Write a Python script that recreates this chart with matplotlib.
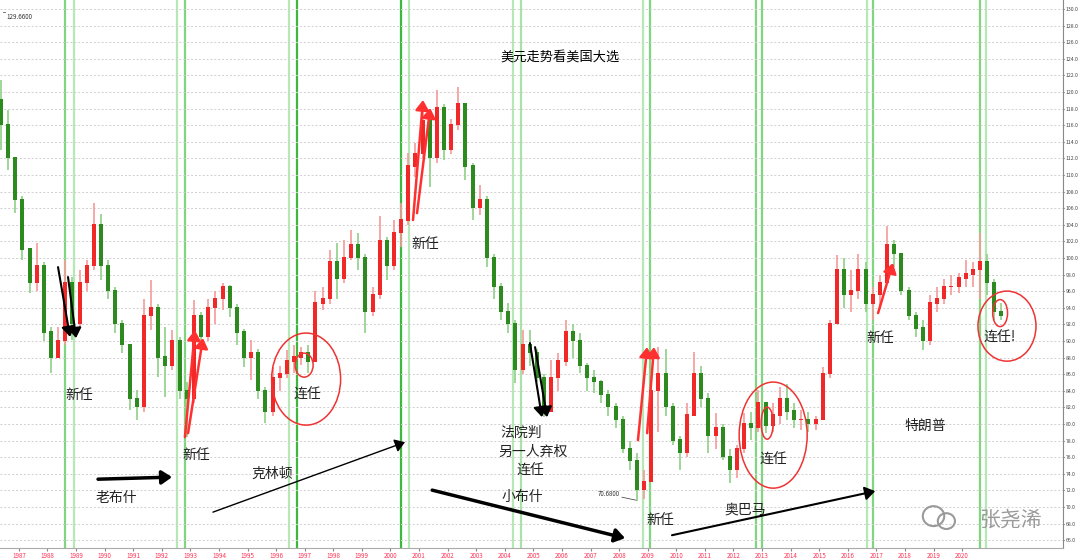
import matplotlib
matplotlib.use('Agg')
import matplotlib.pyplot as plt
from matplotlib.patches import Ellipse
import numpy as np

plt.rcParams['font.family'] = ['Noto Sans CJK SC', 'DejaVu Sans']

# quarterly candles (dollar index), open = previous close
first_open = 119.0
closes = [116, 112, 107, 101, 97, 99, 91, 88, 90, 97, 92, 97, 99, 104, 99, 96, 92, 89.5, 83, 82,
          93, 94, 88, 87, 90, 84, 83, 93, 90.5, 94, 95, 96.5, 94, 91, 88, 88.5, 84, 81.5, 85.5, 86,
          87.5, 88, 88.5, 87.5, 94.5, 95, 99.5, 97.5, 100, 101.5, 100, 93.5, 95.5, 102, 99, 103, 104.5, 111, 112.5, 116.5,
          112, 118, 113, 116, 118.5, 111, 106, 107, 100, 96.5, 93.5, 92, 86.5, 89.5, 88.5, 85.5, 81.5, 85.5, 87.5, 91,
          90, 87, 85.5, 85, 83.5, 82, 80.5, 77, 75.5, 72, 73, 84, 86, 82, 78, 76.5, 81, 86, 83, 78.5,
          79.5, 76, 74.5, 77, 80, 79.5, 82.5, 79.8, 81, 83, 81.5, 80.5, 80.5, 80, 80.5, 86, 92, 98.5, 95.5, 96,
          98.5, 94.5, 95.5, 97, 101.5, 100.5, 96, 93, 91.5, 90, 94.5, 95, 96.5, 96.5, 97.5, 98, 98.5, 99.5, 97, 93.5, 93]
highs = [121.5, 117.8, 110, 107.5, 101, 101.8, 99.5, 91.7, 91.7, 99.8, 97.7, 98.6, 99.8, 106.6, 105.3, 99.8, 96.5, 92.5, 89.5, 84.1,
         95, 97.3, 94.5, 91.7, 91.3, 90.5, 85, 94.9, 93.5, 95, 96, 97, 96.8, 94.5, 91.5, 90.1, 89, 84.5, 86.9, 87,
         88.9, 89.5, 89.3, 89.5, 96, 96.5, 101, 101.8, 102.2, 103.4, 103, 100.5, 96.5, 105, 102.5, 104.6, 106.6, 112.6, 113.9, 118.2,
         117, 120.2, 118.5, 116.8, 120.6, 118.5, 111.5, 108.8, 107.5, 100.5, 97, 94.6, 92.5, 91.3, 91.3, 89, 86, 87.7, 88.5, 92.5,
         92, 91, 87.3, 86.5, 85.3, 84.1, 82.5, 81, 78, 76.5, 74.5, 85.5, 89.3, 89, 82.5, 78.5, 82.5, 88.7, 87, 83.7,
         81.3, 80, 77, 77.5, 81.3, 81.5, 84.1, 82.5, 82.5, 84.5, 84.8, 82.5, 81.7, 81.5, 81, 86.9, 92.5, 100.4, 100, 98.5,
         100.5, 99.5, 96.5, 98, 103.8, 102.2, 100.5, 96.5, 93.5, 92.5, 95.5, 96.5, 97.5, 98, 98.2, 99.8, 99.5, 103, 100.5, 97.5, 94.6]
lows = [113, 110.6, 105.4, 99.8, 95.8, 96, 90, 86.1, 88, 89.5, 90.1, 91.5, 96, 98.5, 97.3, 95, 91, 88.6, 81.7, 80.5,
        81.5, 91.3, 85.7, 83.3, 86.5, 83, 78.4, 82.5, 89.3, 90, 92, 93.7, 92.9, 89.5, 86.9, 85.3, 83, 80.1, 81, 84,
        85.5, 86.1, 87.1, 86.1, 87.5, 93.7, 94.5, 95, 97, 99.8, 98.5, 91, 93, 95, 97.3, 98.5, 101.3, 104, 109.8, 112,
        108.6, 111.5, 111.8, 112.5, 115.4, 109.4, 104.6, 105.2, 98.9, 95, 92.5, 91, 84.9, 86, 87, 85, 80.8, 81.5, 84, 87,
        88, 86.1, 84, 83.7, 82.5, 81, 79.5, 76.5, 74.5, 70.7, 71, 73, 79, 81, 77.5, 74.5, 76, 81, 82, 76.5,
        77, 75.7, 72.9, 73.5, 76.5, 78.1, 79, 78.9, 79, 80, 80.5, 79.5, 79.3, 79, 79.3, 80.5, 85.5, 92, 94, 93.5,
        95, 93.5, 92.5, 94, 97, 98.9, 95.5, 92.5, 90.5, 88.9, 89.5, 93.5, 94.5, 95.5, 95.8, 96.5, 96.5, 95, 95.5, 92.5, 92.5]

years = np.arange(1987, 2021)
election_lines = [1988.61, 1988.93, 1992.53, 1992.81, 1996.45, 1996.73, 2000.37, 2000.65, 2004.29, 2004.57,
                  2008.84, 2009.08, 2012.79, 2013.00, 2016.68, 2016.89, 2020.63, 2020.84]
line_colors = ['#7fd67f', '#b5e8b5', '#b5e8b5', '#7fd67f', '#b5e8b5', '#3cb83c', '#3cb83c', '#b5e8b5', '#b5e8b5', '#a8e2a8',
               '#b5e8b5', '#7fd67f', '#7fd67f', '#7fd67f', '#b5e8b5', '#7fd67f', '#7fd67f', '#b5e8b5']

t = 1986.375 + 0.25 * np.arange(len(closes))
closes = np.array(closes, dtype=float)
opens = np.concatenate([[first_open], closes[:-1]])
up = closes >= opens

fig = plt.figure(figsize=(10.8, 5.59), dpi=100)
ax = fig.add_axes([0, 11 / 559, 1063 / 1080, 548 / 559])

ax.set_xlim(1986.34, 2023.53)
ax.set_ylim(65.06, 131.08)
ax.set_yticks(np.arange(66, 131, 2))
ax.set_yticklabels(['%.1f' % v for v in np.arange(66, 131, 2)])
ax.yaxis.tick_right()
ax.tick_params(axis='y', labelsize=3.7, colors='#444444', length=1, pad=0.8)
ax.set_xticks(years)
ax.set_xticklabels([str(y) for y in years])
ax.tick_params(axis='x', labelsize=4.5, labelcolor='#ff3355', color='#888888', length=2, pad=1)
ax.grid(axis='y', linestyle=(0, (2, 2)), color='#cfcfcf', linewidth=0.7)
for s in ['top', 'left']:
    ax.spines[s].set_visible(False)
ax.spines['right'].set_color('#888888')
ax.spines['bottom'].set_color('#aaaaaa')

for xv, c in zip(election_lines, line_colors):
    ax.axvline(xv, color=c, lw=1.6, zorder=1)

# candles
ccol = np.where(up, '#f02828', '#2d8a1e')
wcol = np.where(up, '#f59a9a', '#8fcf86')
ax.vlines(t, lows, highs, colors=wcol, lw=1.2, zorder=2)
ax.bar(t, np.abs(closes - opens) + 0.15, bottom=np.minimum(opens, closes), width=0.14,
       color=ccol, zorder=3, linewidth=0)

# texts
fs = 10
ax.text(2005.93, 124.2, '美元走势看美国大选', fontsize=9.5, ha='center', va='center')
labels = [(1989.10, 83.48, '新任'), (1993.20, 76.25, '新任'), (1997.08, 83.48, '连任'),
          (2001.21, 101.68, '新任'), (1995.86, 73.96, '克林顿'), (1990.40, 71.06, '老布什'),
          (2004.57, 78.90, '法院判'), (2004.99, 76.61, '另一人弃权'), (2004.88, 74.32, '连任'),
          (2004.60, 71.18, '小布什'), (2009.43, 68.41, '新任'), (2013.39, 75.64, '连任'),
          (2012.41, 69.74, '奥巴马'), (2017.13, 90.35, '新任'), (2018.70, 79.74, '特朗普'),
          (2021.33, 90.35, '连任!')]
for x, y, s in labels:
    ax.text(x, y, s, fontsize=fs, ha='center', va='center', color='#222222')

ax.text(1986.55, 129.04, '129.6600', fontsize=4.5, ha='left', va='center', color='#333333')
ax.plot([1986.45, 1986.5], [129.6, 129.6], color='#333333', lw=0.5)
ax.text(2007.65, 71.54, '70.6800', fontsize=4.5, ha='center', va='center', color='#333333')
ax.plot([2008.10, 2008.59], [71.18, 70.82], color='#333333', lw=0.5)

# arrows
def arrow(x0, y0, x1, y1, color, lw, hw=4, hl=6):
    ax.annotate('', xy=(x1, y1), xytext=(x0, y0),
                arrowprops=dict(arrowstyle='-|>,head_width=%.2f,head_length=%.2f' % (hw / 10, hl / 10),
                                color=color, lw=lw, shrinkA=0, shrinkB=0), zorder=5)

arrow(1988.37, 98.9, 1988.79, 90.5, 'black', 1.5)
arrow(1988.72, 97.7, 1989.00, 90.35, 'black', 1.5)
arrow(1989.77, 73.35, 1992.36, 73.6, 'black', 2.5)
arrow(1993.79, 69.38, 2000.51, 77.81, 'black', 1.0)
arrow(2004.88, 89.74, 2005.30, 80.83, 'black', 1.5)
arrow(2005.06, 89.26, 2005.48, 80.83, 'black', 1.5)
arrow(2001.46, 72.03, 2008.21, 66.24, 'black', 2.5)
arrow(2009.85, 66.6, 2016.96, 71.91, 'black', 1.5)
arrow(1992.81, 78.42, 1993.16, 91.3, '#ff3030', 1.8)
arrow(1992.92, 78.9, 1993.44, 90.35, '#ff3030', 1.8)
arrow(2000.79, 104.57, 2001.14, 119.03, '#ff3030', 1.8)
arrow(2000.93, 105.4, 2001.39, 118.07, '#ff3030', 1.8)
arrow(2008.66, 78.05, 2008.98, 89.26, '#ff3030', 1.8)
arrow(2008.98, 78.9, 2009.22, 89.26, '#ff3030', 1.8)
arrow(2017.06, 93.36, 2017.58, 99.39, '#ff3030', 1.8)

# circles
for cx, cy, w, h in [(1997.05, 85.41, 2.414, 11.09), (1996.98, 87.09, 0.63, 2.89),
                     (2013.39, 78.66, 2.38, 12.78), (2013.18, 80.10, 0.42, 3.86),
                     (2021.57, 91.79, 2.03, 8.44), (2021.33, 93.36, 0.52, 3.25)]:
    ax.add_patch(Ellipse((cx, cy), w, h, fill=False, edgecolor='#ee3333', lw=1.1, zorder=6))

# watermark
ax.add_patch(Ellipse((2019.0, 68.9), 0.75, 2.4, fill=False, edgecolor='#9a9a9a', lw=1.5, zorder=6))
ax.add_patch(Ellipse((2019.45, 68.3), 0.6, 1.9, fill=False, edgecolor='#9a9a9a', lw=1.5, zorder=6))
ax.text(2021.7, 68.5, '张尧浠', fontsize=15, ha='center', va='center', color='#9a9a9a', zorder=6)

fig.savefig('out.png', dpi=100)
